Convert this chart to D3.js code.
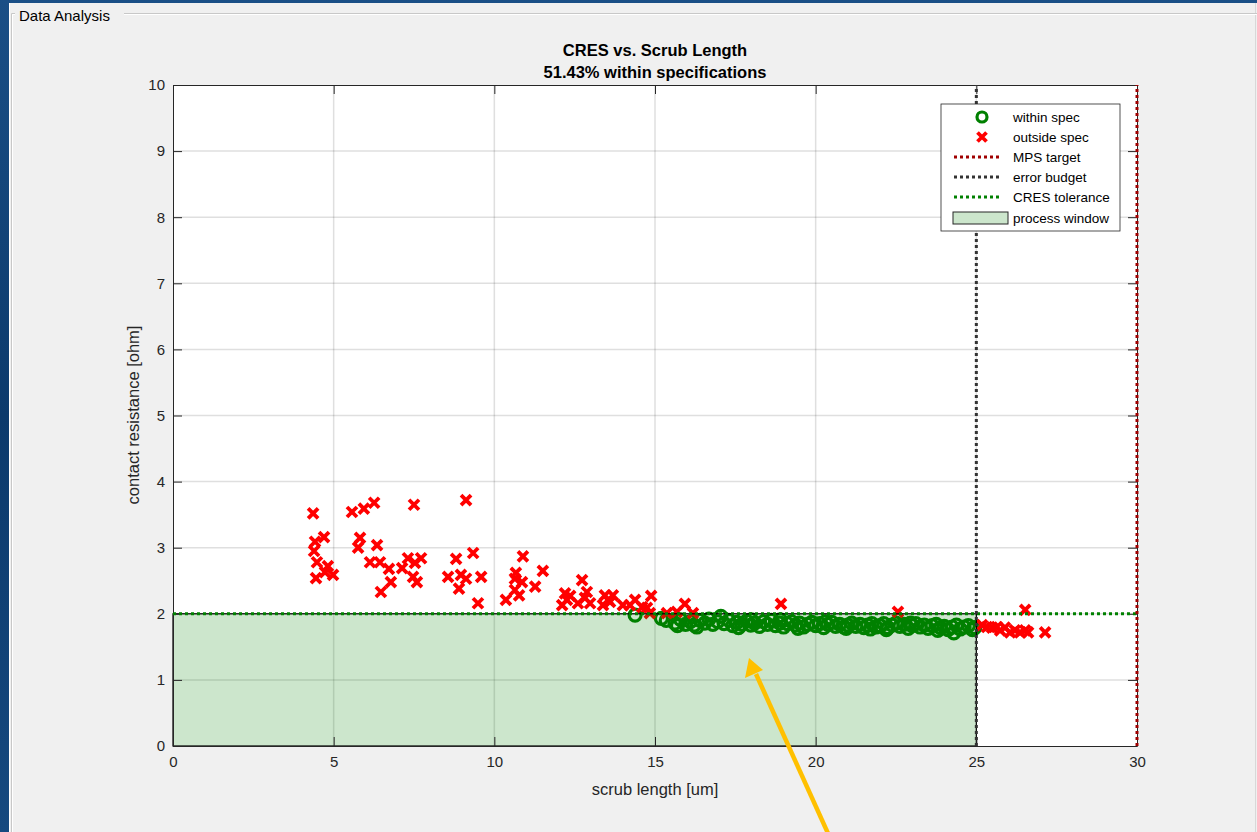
<!DOCTYPE html>
<html>
<head>
<meta charset="utf-8">
<script src="https://cdn.jsdelivr.net/npm/d3@7"></script>
<style>
  body { margin: 0; background: #0d3866; }
  text { font-family: "Liberation Sans", Arial, sans-serif; }
</style>
</head>
<body>
<div id="chart"></div>
<script>
// outside spec (red crosses)
var redX = [4.36,5.57,5.94,6.26,7.50,9.12,4.70,4.42,4.39,5.82,
            5.76,6.35,6.13,6.44,4.48,4.82,4.73,4.98,4.45,6.72,
            6.78,6.47,7.13,7.31,7.53,7.72,7.47,7.59,8.81,9.34,
            8.96,9.12,8.56,9.59,8.90,9.49,10.89,10.67,10.64,10.86,
            10.77,10.36,11.27,11.51,12.73,12.88,12.20,12.26,12.11,12.60,
            12.98,13.44,13.69,13.38,13.60,14.00,14.22,14.88,14.60,14.75,
            14.84,15.37,15.68,15.93,16.18,18.92,22.56,26.52,25.18,25.33,
            25.49,25.64,25.74,25.89,26.05,26.20,26.36,26.52,26.61,27.14,
            12.36,12.82,13.54,10.64,14.38];
var redY = [3.52,3.54,3.59,3.68,3.65,3.72,3.16,3.09,2.95,3.15,
            3.00,3.04,2.78,2.78,2.78,2.72,2.63,2.59,2.54,2.68,
            2.48,2.33,2.69,2.84,2.77,2.84,2.56,2.48,2.83,2.92,
            2.59,2.53,2.56,2.56,2.38,2.16,2.87,2.62,2.53,2.48,
            2.28,2.21,2.41,2.65,2.51,2.33,2.31,2.21,2.13,2.16,
            2.16,2.28,2.28,2.13,2.18,2.13,2.13,2.27,2.10,2.09,
            2.01,2.01,2.03,2.15,2.01,2.15,2.03,2.06,1.83,1.80,
            1.79,1.80,1.75,1.79,1.72,1.75,1.72,1.75,1.72,1.72,
            2.27,2.24,2.21,2.36,2.21];

// within spec (green circles)
var greenX = [14.38,15.20,15.35,15.62,15.80,15.95,16.10,16.22,16.40,16.55,
              16.68,16.80,16.95,17.05,17.15,17.30,17.42,17.55,17.70,17.85,
              17.98,18.10,18.25,18.38,18.50,18.62,18.75,18.88,19.00,19.12,
              19.25,19.38,19.50,19.62,19.75,19.88,20.00,20.12,20.25,20.38,
              20.50,20.62,20.75,20.88,21.00,21.12,21.25,21.38,21.50,21.62,
              21.75,21.88,22.00,22.12,22.25,22.38,22.50,22.62,22.75,22.88,
              23.00,23.12,23.25,23.38,23.50,23.62,23.75,23.88,24.00,24.12,
              24.25,24.38,24.50,24.62,24.75,24.88,24.95,16.30,17.60,18.00,
              19.45,20.30,21.70,22.95,23.80,24.30,18.90,20.95,15.70,22.20];
var greenY = [1.98,1.93,1.90,1.86,1.91,1.84,1.88,1.83,1.90,1.86,
              1.92,1.84,1.88,1.96,1.85,1.90,1.82,1.87,1.84,1.89,
              1.83,1.86,1.81,1.88,1.84,1.90,1.82,1.86,1.80,1.85,
              1.88,1.83,1.86,1.80,1.84,1.87,1.82,1.85,1.79,1.84,
              1.87,1.81,1.84,1.80,1.83,1.86,1.81,1.84,1.79,1.83,
              1.85,1.80,1.82,1.85,1.79,1.83,1.86,1.81,1.84,1.78,
              1.82,1.85,1.80,1.83,1.78,1.82,1.84,1.79,1.81,1.76,
              1.80,1.83,1.77,1.80,1.82,1.76,1.79,1.80,1.79,1.91,
              1.78,1.88,1.77,1.86,1.75,1.71,1.91,1.78,1.82,1.76];

var xTicks = [0,5,10,15,20,25,30];
var yTicks = [0,1,2,3,4,5,6,7,8,9,10];
var mpsTarget = 30;
var errorBudget = 25;
var cresTolerance = 2;
var legendItems = ["within spec","outside spec","MPS target","error budget","CRES tolerance","process window"];

var width = 1257, height = 832;

var svg = d3.select("#chart").append("svg")
  .attr("width", width).attr("height", height);

// window background + group box
var defs = svg.append("defs");
var grad = defs.append("linearGradient").attr("id","bg").attr("x1",0).attr("y1",0).attr("x2",0).attr("y2",1);
grad.append("stop").attr("offset","0%").attr("stop-color","#1a4f86");
grad.append("stop").attr("offset","50%").attr("stop-color","#0c3a6c");
grad.append("stop").attr("offset","100%").attr("stop-color","#16497f");
svg.append("rect").attr("width",width).attr("height",height).attr("fill","url(#bg)");
svg.append("rect").attr("x",9).attr("y",3).attr("width",width-9).attr("height",height-3).attr("fill","#f0f0f0");
svg.append("line").attr("x1",9.5).attr("x2",9.5).attr("y1",3).attr("y2",height).attr("stroke","#fff");
svg.append("line").attr("x1",1255.5).attr("x2",1255.5).attr("y1",3).attr("y2",height).attr("stroke","#d8d8d8");
svg.append("path").attr("d","M15,13.5H11.5V832M124,13.5H1257").attr("fill","none").attr("stroke","#c8c8c8");
svg.append("path").attr("d","M15,14.5H12.5V832M124,14.5H1257").attr("fill","none").attr("stroke","#fff");
svg.append("text").attr("x",19).attr("y",21).attr("font-size",15).attr("fill","#000").text("Data Analysis");

var x = d3.scaleLinear().domain([0,30]).range([173,1137]);
var y = d3.scaleLinear().domain([0,10]).range([746,85]);

// plot area
svg.append("rect").attr("x",x(0)).attr("y",y(10)).attr("width",x(30)-x(0)).attr("height",y(0)-y(10)).attr("fill","#fff");

// grid
svg.append("g").selectAll("line").data(xTicks.slice(1,-1)).join("line")
  .attr("x1", d => x(d)).attr("x2", d => x(d)).attr("y1", y(0)).attr("y2", y(10))
  .attr("stroke","#262626").attr("stroke-opacity",0.15).attr("stroke-width",1.5);
svg.append("g").selectAll("line").data(yTicks.slice(1,-1)).join("line")
  .attr("x1", x(0)).attr("x2", x(30)).attr("y1", d => y(d)).attr("y2", d => y(d))
  .attr("stroke","#262626").attr("stroke-opacity",0.15).attr("stroke-width",1.5);

// points
var green = greenX.map((d,i) => ({x: d, y: greenY[i]}));
var red = redX.map((d,i) => ({x: d, y: redY[i]}));
var cross = "M-5,-5L5,5M-5,5L5,-5";

svg.append("g").selectAll("circle").data(green).join("circle")
  .attr("cx", d => x(d.x)).attr("cy", d => y(d.y)).attr("r",6)
  .attr("fill","none").attr("stroke","#008000").attr("stroke-width",3.2);
svg.append("g").selectAll("path").data(red).join("path")
  .attr("transform", d => `translate(${x(d.x)},${y(d.y)})`)
  .attr("d", cross).attr("stroke","#ff0000").attr("stroke-width",3.8).attr("fill","none");

// process window
svg.append("rect").attr("x",x(0)).attr("y",y(cresTolerance))
  .attr("width",x(errorBudget)-x(0)).attr("height",y(0)-y(cresTolerance))
  .attr("fill","#008000").attr("fill-opacity",0.2).attr("stroke","#000").attr("stroke-width",1.2);

// axes
function styleAxis(g) {
  g.selectAll("path,line").attr("stroke","#262626");
  g.selectAll("text").attr("fill","#262626").attr("font-size",15)
    .attr("font-family","'Liberation Sans', Arial, sans-serif");
}
svg.append("g").attr("transform",`translate(0,${y(0)})`)
  .call(d3.axisBottom(x).tickValues(xTicks).tickSizeInner(-9).tickSizeOuter(0).tickPadding(10))
  .call(styleAxis);
svg.append("g").attr("transform",`translate(0,${y(10)})`)
  .call(d3.axisTop(x).tickValues(xTicks).tickSizeInner(-9).tickSizeOuter(0).tickFormat(""))
  .call(styleAxis);
svg.append("g").attr("transform",`translate(${x(0)},0)`)
  .call(d3.axisLeft(y).tickValues(yTicks).tickSizeInner(-9).tickSizeOuter(0).tickPadding(8))
  .call(styleAxis);
svg.append("g").attr("transform",`translate(${x(30)},0)`)
  .call(d3.axisRight(y).tickValues(yTicks).tickSizeInner(-9).tickSizeOuter(0).tickFormat(""))
  .call(styleAxis);
svg.selectAll(".domain").attr("fill","none");

// spec lines
svg.append("line").attr("x1",x(0)).attr("x2",x(30)).attr("y1",y(cresTolerance)).attr("y2",y(cresTolerance))
  .attr("stroke","#008000").attr("stroke-width",3).attr("stroke-dasharray","3,3");
svg.append("line").attr("x1",x(errorBudget)).attr("x2",x(errorBudget)).attr("y1",y(0)).attr("y2",y(10))
  .attr("stroke","#333").attr("stroke-width",3).attr("stroke-dasharray","3,3");
svg.append("line").attr("x1",x(mpsTarget)).attr("x2",x(mpsTarget)).attr("y1",y(0)).attr("y2",y(10))
  .attr("stroke","#a00000").attr("stroke-width",3).attr("stroke-dasharray","3,3");

// titles
var pct = green.length / (green.length + red.length) * 100;
svg.append("text").attr("x",655).attr("y",56).attr("text-anchor","middle")
  .attr("font-size",16.5).attr("font-weight","bold").attr("fill","#000").text("CRES vs. Scrub Length");
svg.append("text").attr("x",655).attr("y",78).attr("text-anchor","middle")
  .attr("font-size",16.5).attr("font-weight","bold").attr("fill","#000")
  .text(d3.format(".2f")(pct) + "% within specifications");
svg.append("text").attr("x",655).attr("y",795).attr("text-anchor","middle")
  .attr("font-size",16.5).attr("fill","#262626").text("scrub length [um]");
svg.append("text").attr("x",139).attr("y",415).attr("text-anchor","middle")
  .attr("transform","rotate(-90,139,415)")
  .attr("font-size",16.5).attr("fill","#262626").text("contact resistance [ohm]");

// legend
var lg = svg.append("g").attr("transform","translate(941,104)");
lg.append("rect").attr("width",179).attr("height",127).attr("fill","#fff").attr("stroke","#262626").attr("stroke-width",0.8);
var rowY = [13,33,53,73,93,114];
lg.append("circle").attr("cx",41).attr("cy",rowY[0]).attr("r",5)
  .attr("fill","none").attr("stroke","#008000").attr("stroke-width",3.2);
lg.append("path").attr("transform",`translate(41,${rowY[1]})`).attr("d","M-4.5,-4.5L4.5,4.5M-4.5,4.5L4.5,-4.5")
  .attr("stroke","#ff0000").attr("stroke-width",3.8);
[["#a00000",2],["#333",3],["#008000",4]].forEach(function(s) {
  lg.append("line").attr("x1",13).attr("x2",61).attr("y1",rowY[s[1]]).attr("y2",rowY[s[1]])
    .attr("stroke",s[0]).attr("stroke-width",3).attr("stroke-dasharray","3,3");
});
lg.append("rect").attr("x",12).attr("y",rowY[5]-6).attr("width",55).attr("height",12)
  .attr("fill","#cce6cc").attr("stroke","#262626").attr("stroke-width",1);
lg.selectAll("text.item").data(legendItems).join("text").attr("class","item")
  .attr("x",72).attr("y",(d,i) => rowY[i] + 5)
  .attr("font-size",13.5).attr("fill","#000").text(d => d);

// annotation arrow
svg.append("line").attr("x1",831).attr("y1",840).attr("x2",756).attr("y2",674)
  .attr("stroke","#ffc000").attr("stroke-width",4.5);
svg.append("path").attr("d","M749,658 L745,678 L763,670 Z").attr("fill","#ffc000");
</script>
</body>
</html>
